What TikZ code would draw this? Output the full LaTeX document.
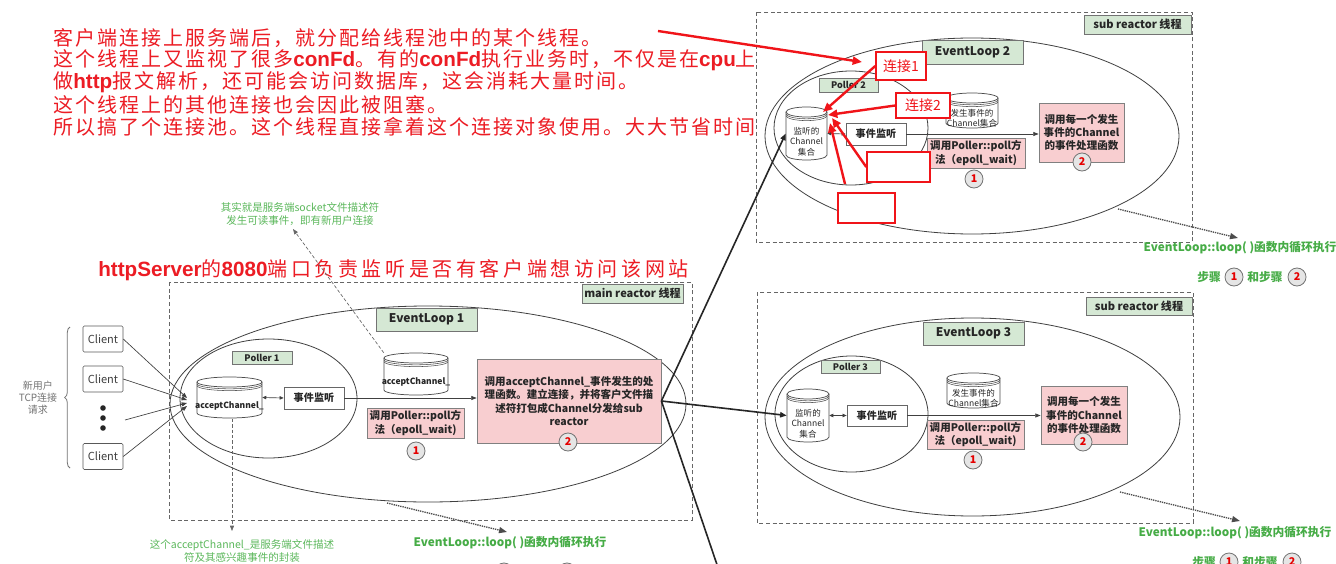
\documentclass[tikz,border=0pt]{standalone}
\usepackage{fontspec}
\setmainfont{Noto Sans CJK SC}
\newfontfamily\rcjk[LetterSpace=10]{Noto Sans CJK SC}
\newfontfamily\rcjkw[LetterSpace=18]{Noto Sans CJK SC}
\newfontfamily\arl{Liberation Sans}
\usetikzlibrary{arrows.meta,decorations.pathreplacing,calc}
\definecolor{lblgreen}{RGB}{213,232,212}
\definecolor{pinkf}{RGB}{248,206,208}
\definecolor{redt}{RGB}{236,28,36}
\definecolor{redl}{RGB}{240,20,25}
\definecolor{notegreen}{RGB}{92,184,92}
\definecolor{loopgreen}{RGB}{70,172,70}
\newcommand\lat[1]{{\arl\bfseries\fontsize{15.5}{17}\selectfont #1}}
\newcommand\drawcyl[7]{%
  \pgfmathsetmacro\cylX{(#2+#4)/2}%
  \pgfmathsetmacro\cylY{(#3+#5)/2}%
  \pgfmathsetmacro\cylR{(#4-#2)/2}%
  \pgfmathsetmacro\cylKx{0.5523*\cylR}%
  \pgfmathsetmacro\cylKy{0.5523*#6}%
  \pgfmathsetmacro\cylTop{#3+#6}%
  \pgfmathsetmacro\cylBot{#5-#6}%
  \pgfmathsetmacro\cylW{#4-#2}%
  \pgfmathsetmacro\cylH{#5-#3}%
  \draw[cyl] (#2,\cylTop) -- (#2,\cylBot) .. controls (#2,\cylBot+\cylKy) and (\cylX-\cylKx,#5) .. (\cylX,#5) .. controls (\cylX+\cylKx,#5) and (#4,\cylBot+\cylKy) .. (#4,\cylBot) -- (#4,\cylTop);
  \draw[cyl] (\cylX,\cylTop) ellipse[x radius=\cylR, y radius=#6];
  \foreach \rr in {1.8,3.6}{\draw[cylrim] (#2,\cylTop+\rr) .. controls (#2,\cylTop+\rr+\cylKy) and (\cylX-\cylKx,\cylTop+\rr+#6) .. (\cylX,\cylTop+\rr+#6) .. controls (\cylX+\cylKx,\cylTop+\rr+#6) and (#4,\cylTop+\rr+\cylKy) .. (#4,\cylTop+\rr);}
  \node[inner sep=0pt, mw=\cylW, mh=\cylH] (#1) at (\cylX,\cylY) {};
  \node[cyltext] (#1t) at (\cylX,\cylY+1.6*#6) {#7};
}
\tikzset{
 mw/.style={minimum width=#1*0.75pt},
 mh/.style={minimum height=#1*0.75pt},
 dbox/.style={draw=black!60, dash pattern=on 3pt off 2pt, line width=0.6pt},
 ell/.style={draw=black!75, line width=0.6pt},
 lbl/.style={draw=black!55, fill=lblgreen, inner sep=0pt, line width=0.6pt, text=black!85, font=\bfseries\fontsize{9}{10}\selectfont},
 thread/.style={lbl, font=\bfseries\fontsize{8.3}{9}\selectfont},
 poller/.style={lbl, font=\bfseries\fontsize{6.8}{8}\selectfont},
 evbox/.style={draw=black!60, fill=white, inner sep=0pt, line width=0.6pt, font=\bfseries\fontsize{7.6}{9}\selectfont, text=black!85},
 pinkbox/.style={draw=black!50, fill=pinkf, inner sep=0pt, line width=0.6pt, align=center, font=\bfseries\fontsize{7.9}{10}\selectfont, text=black!85},
 stepc/.style={circle, draw=black!55, fill=black!10, line width=0.6pt, minimum size=13.5pt, inner sep=0pt, text=red!90!black, font=\bfseries\fontsize{8}{9}\selectfont},
 client/.style={draw=black!65, rounded corners=1pt, fill=white, mw=40, mh=26, inner sep=0pt, font=\fontsize{8.3}{9}\selectfont, text=black!75},
 cyl/.style={draw=black!70, fill=white, line width=0.55pt},
 cylrim/.style={draw=black!70, line width=0.4pt},
 cyltext/.style={align=center, inner sep=0pt, font=\fontsize{6.4}{7.8}\selectfont, text=black!85},
 arr/.style={-{Triangle[length=4pt,width=3pt]}, draw=black!75, line width=0.5pt},
 darr/.style={{Triangle[length=3pt,width=2.6pt]}-{Triangle[length=3pt,width=2.6pt]}, draw=black!75, line width=0.5pt},
 fan/.style={-{Triangle[length=5pt,width=4pt]}, draw=black!85, line width=1.2pt},
 dotarr/.style={-{Triangle[length=6pt,width=4.5pt]}, draw=black!70, line width=1pt, dash pattern=on 1pt off 0.7pt},
 dasharr/.style={-{Triangle[length=4pt,width=3pt]}, draw=black!60, line width=0.5pt, dash pattern=on 2.5pt off 1.5pt},
 redarr/.style={-{Triangle[length=7pt,width=6pt]}, draw=redl, line width=1.8pt},
 redbox/.style={draw=redl, fill=white, line width=1.1pt, inner sep=0pt, text=redl, font=\fontsize{10.5}{12}\selectfont},
 note/.style={align=center, text=notegreen, font=\fontsize{7.9}{9.8}\selectfont, inner sep=0pt},
 loopt/.style={text=loopgreen, font=\bfseries\fontsize{8.8}{10}\selectfont, inner sep=0pt},
 redtext/.style={anchor=west, inner sep=0pt, text=redt, font=\rcjk\fontsize{15}{17}\selectfont},
}
\begin{document}
\begin{tikzpicture}[x=0.75pt,y=-0.75pt]
\useasboundingbox (0,0) rectangle (1336,564);
\clip (0,0) rectangle (1336,564);
\fill[white] (0,0) rectangle (1336,564);

% ---------------- red explanatory text ----------------
\node[redtext] (t1) at (53,38) {客户端连接上服务端后，就分配给线程池中的某个线程。};
\node[redtext] (t2) at (53,60.3) {这个线程上又监视了很多\lat{conFd}。有的\lat{conFd}执行业务时，不仅是在\lat{cpu}上};
\node[redtext] (t3) at (53,82.6) {做\lat{http}报文解析，还可能会访问数据库，这会消耗大量时间。};
\node[redtext] (t4) at (53,104.9) {这个线程上的其他连接也会因此被阻塞。};
\node[redtext] (t5) at (53,127.2) {所以搞了个连接池。这个线程直接拿着这个连接对象使用。大大节省时间};
\node[redtext, font=\rcjkw\fontsize{15}{17}\selectfont] (hs) at (98,270) {\lat{httpServer}的\lat{8080}端口负责监听是否有客户端想访问该网站};

% ---------------- main reactor ----------------
\draw[dbox] (169,282) rectangle (692,520);
\draw[ell] (428,404) ellipse[x radius=258, y radius=98];
\draw[ell] (268.5,398.5) ellipse[x radius=88.5, y radius=59.5];
\node[thread, mw=101, mh=19] (mlbl) at (632.5,293.5) {main reactor 线程};
\node[lbl, mw=101, mh=23] (el1) at (426.5,319.5) {EventLoop 1};
\node[poller, mw=60, mh=13] (pl1) at (262,357.5) {Poller 1};
\drawcyl{acc1}{197}{377}{262}{418}{5}{\bfseries acceptChannel\_}
\node[evbox, mw=60, mh=22] (ev1) at (314,398) {事件监听};
\draw[darr] (acc1.east) -- (ev1.west);
\drawcyl{acc2}{384}{353}{448}{395}{5}{\bfseries acceptChannel\_}
\node[pinkbox, mw=97, mh=30] (p11) at (415.5,423) {调用Poller::poll方\\法（epoll\_wait)};
\node[stepc] (c11) at (416,451) {1};
\node[pinkbox, mw=184, mh=84] (p12) at (569,401) {调用acceptChannel\_事件发生的处\\理函数。建立连接，并将客户文件描\\述符打包成Channel分发给sub\\reactor};
\node[stepc] (c12) at (568,442) {2};
\draw[arr] (ev1.east) -- (ev1.east -| p12.west);

% clients
\node[client] (cl1) at (103,339) {Client};
\node[client] (cl2) at (103,379) {Client};
\node[client] (cl4) at (103,456.5) {Client};
\fill[black!85] (103,408) circle[radius=2.8];
\fill[black!85] (103,418) circle[radius=2.8];
\fill[black!85] (103,428) circle[radius=2.8];
\coordinate (dts) at (125,420);
\coordinate (in1) at (187,398);
\coordinate (in2) at (187,400);
\coordinate (in3) at (187,403);
\coordinate (in4) at (187,406);
\draw[arr] (cl1.east) -- (in1);
\draw[arr] (cl2.east) -- (in2);
\draw[arr] (dts) -- (in3);
\draw[arr] (cl4.east) -- (in4);
\draw[black!55, line width=0.6pt, decorate, decoration={brace, amplitude=4pt}] (70,468) -- (70,327);
\node[align=center, inner sep=0pt, text=black!55, font=\fontsize{7.5}{9}\selectfont] (nu) at (38,398) {新用户\\TCP连接\\请求};

% annotations
\node[note] (an1) at (300,214) {其实就是服务端socket文件描述符\\发生可读事件，即有新用户连接};
\coordinate (an1t) at (293,229);
\draw[dasharr] (acc2.north west) -- (an1t);
\node[note] (an2) at (242,551) {这个acceptChannel\_是服务端文件描述\\符及其感兴趣事件的封装};
\coordinate (an2s) at (232,419);
\coordinate (an2t) at (232,531);
\draw[dasharr] (an2s) -- (an2t);

\coordinate (lp1s) at (387,503);
\coordinate (lp1e) at (507,532);
\draw[dotarr] (lp1s) -- (lp1e);
\node[loopt] (lp1) at (510,543) {EventLoop::loop( )函数内循环执行};
\node[loopt] (m1a) at (479,572) {步骤};
\node[stepc] (m1b) at (504,572) {1};
\node[loopt] (m1c) at (535,572) {和步骤};
\node[stepc] (m1d) at (567,572) {2};

% ---------------- sub reactor (top) ----------------
\draw[dbox] (756,12) rectangle (1192,242);
\draw[ell] (972,136) ellipse[x radius=207, y radius=98];
\draw[ell] (851,128) ellipse[x radius=77, y radius=57];
\node[thread, mw=107, mh=19] (s1lbl) at (1137.5,24.5) {sub reactor 线程};
\node[lbl, mw=101, mh=24] (el2) at (972.5,52) {EventLoop 2};
\node[poller, mw=59, mh=14] (pl2) at (848.5,85) {Poller 2};
\drawcyl{mon2}{786}{107}{827}{160}{5}{监听的\\Channel\\集合}
\node[evbox, mw=60, mh=22] (ev2) at (876,134) {事件监听};
\draw[darr] (mon2.east) -- (ev2.west);
\drawcyl{hap2}{946}{93}{998}{128}{5}{发生事件的\\Channel集合}
\node[pinkbox, mw=98, mh=30] (p21) at (976,153) {调用Poller::poll方\\法（epoll\_wait)};
\node[stepc] (c21) at (974,179) {1};
\node[pinkbox, mw=85, mh=59] (p22) at (1081.5,132.5) {调用每一个发生\\事件的Channel\\的事件处理函数};
\node[stepc] (c22) at (1082,162) {2};
\draw[arr] (ev2.east) -- (ev2.east -| p22.west);
\coordinate (lp2s) at (1118,209);
\coordinate (lp2e) at (1238,238);
\draw[dotarr] (lp2s) -- (lp2e);
\node[loopt] (lp2) at (1240,248) {EventLoop::loop( )函数内循环执行};
\node[loopt] (s2a) at (1209,277) {步骤};
\node[stepc] (s2b) at (1234,277) {1};
\node[loopt] (s2c) at (1265,277) {和步骤};
\node[stepc] (s2d) at (1297,277) {2};

% ---------------- sub reactor (bottom) ----------------
\draw[dbox] (757,292) rectangle (1193,523);
\draw[ell] (972.5,417) ellipse[x radius=207.5, y radius=99];
\draw[ell] (851.5,414) ellipse[x radius=76.5, y radius=58];
\node[thread, mw=106, mh=18] (s3lbl) at (1139,306) {sub reactor 线程};
\node[lbl, mw=101, mh=23] (el3) at (973.5,333.5) {EventLoop 3};
\node[poller, mw=59, mh=13] (pl3) at (850.5,366.5) {Poller 3};
\drawcyl{mon3}{787}{389}{829}{442}{5}{监听的\\Channel\\集合}
\node[evbox, mw=60, mh=21] (ev3) at (877,415.5) {事件监听};
\draw[darr] (mon3.east) -- (ev3.west);
\drawcyl{hap3}{947}{373}{1000}{408}{5}{发生事件的\\Channel集合}
\node[pinkbox, mw=97, mh=29] (p31) at (975.5,434.5) {调用Poller::poll方\\法（epoll\_wait)};
\node[stepc] (c31) at (973,460) {1};
\node[pinkbox, mw=86, mh=58] (p32) at (1084,415) {调用每一个发生\\事件的Channel\\的事件处理函数};
\node[stepc] (c32) at (1083,442) {2};
\draw[arr] (ev3.east) -- (ev3.east -| p32.west);
\coordinate (lp3s) at (1120,492);
\coordinate (lp3e) at (1240,521);
\draw[dotarr] (lp3s) -- (lp3e);
\node[loopt] (lp3) at (1235,533) {EventLoop::loop( )函数内循环执行};
\node[loopt] (s3a) at (1204,562) {步骤};
\node[stepc] (s3b) at (1229,562) {1};
\node[loopt] (s3c) at (1260,562) {和步骤};
\node[stepc] (s3d) at (1292,562) {2};

% ---------------- dispatch lines ----------------
\coordinate (offb) at (729,600);
\draw[fan] (p12.east) -- (mon2.west);
\draw[fan] (p12.east) -- (mon3.west);
\draw[fan, -] (p12.east) -- (offb);

% ---------------- red marks ----------------
\node[redbox, mw=50, mh=28] (r1) at (901,66) {连接1};
\node[redbox, mw=54, mh=25] (r2) at (923,105.5) {连接2};
\node[redbox, mw=63, mh=30] (r3) at (898.5,167) {};
\node[redbox, mw=57, mh=30] (r4) at (866.5,208) {};
\coordinate (h1) at (823,112);
\coordinate (h2) at (828,115);
\coordinate (h3) at (832,118);
\coordinate (h4) at (830,123);
\coordinate (r4s) at (845,184);
\draw[redarr] (r1.west) -- (h1);
\draw[redarr] (r2.west) -- (h2);
\draw[redarr] (r3.west) -- (h3);
\draw[redarr] (r4s) -- (h4);
\coordinate (ra0) at (658,31);
\coordinate (ra1) at (862,62);
\draw[redarr] (ra0) -- (ra1);
\end{tikzpicture}
\end{document}
